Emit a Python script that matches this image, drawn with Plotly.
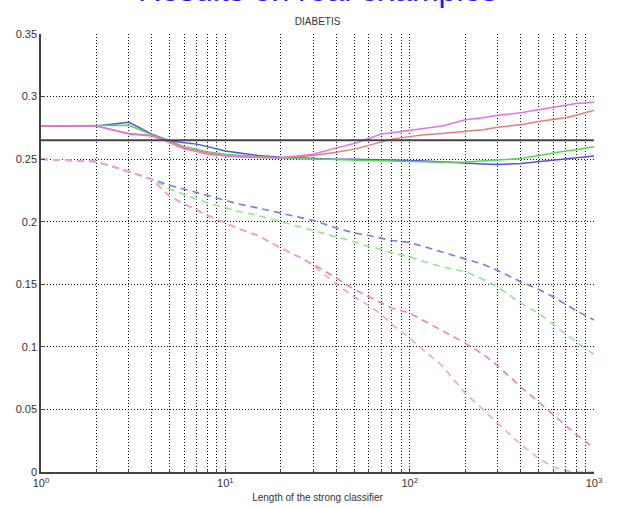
import plotly.graph_objects as go

# ---- data ----
steps = [1, 2, 3, 4, 5, 6, 7, 8, 10, 12, 15, 20, 25, 30, 40, 50, 60, 70, 80,
         100, 120, 150, 200, 250, 300, 400, 500, 600, 700, 800, 1000]

test_blue = [0.2765, 0.2765, 0.2795, 0.2700, 0.2645, 0.2630, 0.2620, 0.2600, 0.2565, 0.2550,
             0.2530, 0.2515, 0.2510, 0.2505, 0.2500, 0.2500, 0.2498, 0.2498, 0.2495, 0.2490,
             0.2485, 0.2480, 0.2470, 0.2462, 0.2458, 0.2465, 0.2480, 0.2490, 0.2500, 0.2510, 0.2525]
test_green = [0.2765, 0.2765, 0.2770, 0.2695, 0.2640, 0.2600, 0.2580, 0.2560, 0.2540, 0.2530,
              0.2520, 0.2510, 0.2505, 0.2502, 0.2500, 0.2495, 0.2490, 0.2488, 0.2485, 0.2480,
              0.2477, 0.2475, 0.2478, 0.2485, 0.2490, 0.2505, 0.2530, 0.2550, 0.2565, 0.2575, 0.2600]
test_red = [0.2765, 0.2765, 0.2705, 0.2690, 0.2640, 0.2590, 0.2570, 0.2550, 0.2530, 0.2520,
            0.2515, 0.2512, 0.2520, 0.2530, 0.2555, 0.2580, 0.2610, 0.2640, 0.2660, 0.2680,
            0.2695, 0.2705, 0.2720, 0.2735, 0.2755, 0.2775, 0.2800, 0.2815, 0.2830, 0.2850, 0.2890]
test_magenta = [0.2765, 0.2765, 0.2700, 0.2685, 0.2630, 0.2580, 0.2560, 0.2540, 0.2525, 0.2518,
                0.2512, 0.2512, 0.2525, 0.2540, 0.2590, 0.2625, 0.2665, 0.2700, 0.2710, 0.2730,
                0.2745, 0.2765, 0.2815, 0.2830, 0.2850, 0.2870, 0.2895, 0.2915, 0.2930, 0.2945, 0.2955]

train_blue = [0.250, 0.248, 0.240, 0.234, 0.229, 0.226, 0.223, 0.221, 0.217, 0.214,
              0.211, 0.207, 0.204, 0.201, 0.195, 0.191, 0.189, 0.187, 0.185, 0.1835,
              0.180, 0.176, 0.170, 0.166, 0.161, 0.152, 0.146, 0.140, 0.134, 0.129, 0.1215]
train_green = [0.250, 0.248, 0.240, 0.234, 0.226, 0.222, 0.218, 0.215, 0.211, 0.208,
               0.205, 0.200, 0.196, 0.193, 0.188, 0.184, 0.180, 0.178, 0.175, 0.172,
               0.168, 0.164, 0.160, 0.154, 0.148, 0.135, 0.127, 0.118, 0.110, 0.104, 0.094]
train_red = [0.250, 0.248, 0.240, 0.234, 0.220, 0.214, 0.209, 0.205, 0.199, 0.194,
             0.189, 0.179, 0.172, 0.166, 0.155, 0.146, 0.140, 0.135, 0.131, 0.127,
             0.121, 0.113, 0.103, 0.094, 0.085, 0.068, 0.056, 0.046, 0.038, 0.030, 0.019]
train_magenta = [0.250, 0.248, 0.240, 0.234, 0.220, 0.214, 0.209, 0.205, 0.199, 0.194,
                 0.189, 0.179, 0.172, 0.165, 0.150, 0.140, 0.133, 0.126, 0.118, 0.107,
                 0.097, 0.085, 0.063, 0.050, 0.039, 0.022, 0.011, 0.004, 0.001, 0.0, 0.0]

baseline = 0.265
x_ticks = [1, 10, 100, 1000]
x_ticktext = ["10<sup>0</sup>", "10<sup>1</sup>", "10<sup>2</sup>", "10<sup>3</sup>"]
y_ticks = [0, 0.05, 0.1, 0.15, 0.2, 0.25, 0.3, 0.35]

fig = go.Figure()

dash = "7px,5px"
for ys, col in [(train_blue, "#7a7ae6"), (train_green, "#8fe88f"),
                (train_red, "#f0849c"), (train_magenta, "#f2a2dc")]:
    fig.add_trace(go.Scatter(x=steps, y=ys, mode="lines",
                             line=dict(color=col, width=1.6, dash=dash)))

for ys, col in [(test_blue, "#5050dc"), (test_green, "#55d855"),
                (test_red, "#e87a7a"), (test_magenta, "#e272ea")]:
    fig.add_trace(go.Scatter(x=steps, y=ys, mode="lines",
                             line=dict(color=col, width=1.5)))

fig.add_trace(go.Scatter(x=[steps[0], steps[-1]], y=[baseline, baseline], mode="lines",
                         line=dict(color="#444444", width=2)))

griddash = "1px,2px"
fig.update_layout(
    width=629, height=508,
    margin=dict(l=41, r=35, t=34, b=36, autoexpand=False),
    paper_bgcolor="white", plot_bgcolor="white",
    showlegend=False,
    font=dict(family="Liberation Sans, Arial, sans-serif", size=11, color="#333333"),
    title=dict(text="DIABETIS", x=0.505, xanchor="center", y=1 - 21 / 508, yanchor="middle",
               font=dict(size=10, color="#333333")),
    xaxis=dict(
        type="log", range=[0, 3], automargin=False,
        tickvals=x_ticks, ticktext=x_ticktext,
        showline=True, linecolor="#444444", linewidth=2,
        ticks="inside", ticklen=4, tickcolor="#444444",
        showgrid=True, gridcolor="#111111", griddash=griddash, gridwidth=1,
        minor=dict(dtick="D1", showgrid=True, gridcolor="#111111", griddash=griddash,
                   gridwidth=1, ticks="inside", ticklen=3, tickcolor="#444444"),
        zeroline=False,
        title=dict(text="Length of the strong classifier", standoff=6,
                   font=dict(size=10, color="#333333")),
    ),
    yaxis=dict(
        range=[0, 0.35], tickvals=y_ticks, automargin=False,
        showline=True, linecolor="#444444", linewidth=1.5,
        ticks="inside", ticklen=4, tickcolor="#444444",
        showgrid=True, gridcolor="#111111", griddash=griddash, gridwidth=1,
        zeroline=False,
    ),
    annotations=[dict(text="Results on real examples", xref="paper", yref="paper",
                      x=0.5, y=1, xanchor="center", yanchor="bottom", yshift=24,
                      showarrow=False, font=dict(size=32, color="#1a1aff"))],
)

fig.write_html("out.html")
